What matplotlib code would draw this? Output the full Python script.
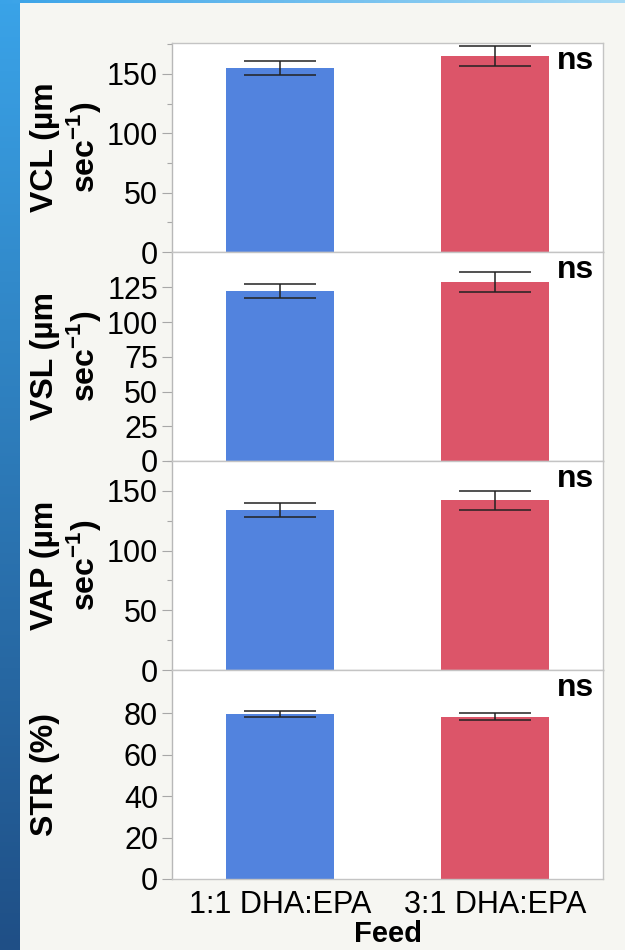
import numpy as np
import matplotlib
matplotlib.use('Agg')
import matplotlib.pyplot as plt
from matplotlib.ticker import MultipleLocator

plt.rcParams['font.family'] = ['Liberation Sans', 'DejaVu Sans']
plt.rcParams['mathtext.fontset'] = 'custom'
plt.rcParams['mathtext.rm'] = 'Liberation Sans'
plt.rcParams['mathtext.bf'] = 'Liberation Sans:bold'

# ── Data ──────────────────────────────────────────────────────────────────────
feeds = ["1:1 DHA:EPA", "3:1 DHA:EPA"]
ylabels = ["VCL (µm\nsec$^{\\mathbf{-1}}$)",
           "VSL (µm\nsec$^{\\mathbf{-1}}$)",
           "VAP (µm\nsec$^{\\mathbf{-1}}$)",
           "STR (%)"]
vcl_mean = [155.0, 165.0]
vcl_err = [6.0, 8.5]
vsl_mean = [122.5, 129.0]
vsl_err = [5.2, 7.3]
vap_mean = [134.0, 142.0]
vap_err = [6.0, 8.0]
str_mean = [79.8, 78.5]
str_err = [1.5, 1.6]
signif = ["ns", "ns", "ns", "ns"]

vcl_ticks = [0, 50, 100, 150]
vsl_ticks = [0, 25, 50, 75, 100, 125]
vap_ticks = [0, 50, 100, 150]
str_ticks = [0, 20, 40, 60, 80]

means = [vcl_mean, vsl_mean, vap_mean, str_mean]
errs = [vcl_err, vsl_err, vap_err, str_err]
ticks = [vcl_ticks, vsl_ticks, vap_ticks, str_ticks]
ylims = [176, 150.5, 175, 101]
minor = [25, None, 25, None]

colors = ['#5283DE', '#DC5569']
bg = '#F6F6F2'
spine_c = '#C4C4C4'

# ── Figure ────────────────────────────────────────────────────────────────────
fig = plt.figure(figsize=(6.25, 9.5), dpi=100, facecolor=bg)

# decorative left strip and top line
strip = fig.add_axes([0, 0, 20 / 625, 1])
grad = np.linspace(0, 1, 256).reshape(-1, 1)
strip.imshow(grad, aspect='auto', cmap=matplotlib.colors.LinearSegmentedColormap.from_list(
    'strip', ['#3AA3E8', '#1F4F86']))
strip.axis('off')
topline = fig.add_axes([0, 1 - 3 / 950, 1, 3 / 950])
topline.imshow(np.linspace(0, 1, 256).reshape(1, -1), aspect='auto',
               cmap=matplotlib.colors.LinearSegmentedColormap.from_list(
                   'top', ['#3AA3E8', '#A6DAF5']))
topline.axis('off')

left, right = 172 / 625, 603 / 625
top, bottom = 1 - 43 / 950, 1 - 879 / 950
h = (top - bottom) / 4

x = np.arange(len(feeds))
for i in range(4):
    ax = fig.add_axes([left, top - (i + 1) * h, right - left, h])
    ax.set_facecolor('white')
    ax.bar(x, means[i], width=0.5, color=colors, zorder=2)
    ax.errorbar(x, means[i], yerr=errs[i], fmt='none', ecolor='#222222',
                elinewidth=1.1, capsize=26, capthick=1.1, zorder=3)
    ax.set_xlim(-0.5, 1.5)
    ax.set_ylim(0, ylims[i])
    ax.set_yticks(ticks[i])
    if minor[i]:
        ax.yaxis.set_minor_locator(MultipleLocator(minor[i]))
    ax.tick_params(axis='y', which='major', length=7, width=0.8, color='#A8A8A8',
                   pad=3, labelsize=22)
    ax.tick_params(axis='y', which='minor', length=3.5, width=0.8, color='#A8A8A8')
    ax.tick_params(axis='x', length=0)
    for s in ax.spines.values():
        s.set_color(spine_c)
        s.set_linewidth(1.0)
    ax.spines['left'].set_color('#B8B8B8')
    ax.set_ylabel(ylabels[i], fontsize=23, fontweight='bold', linespacing=1.15,
                  va='top')
    ax.yaxis.set_label_coords(-0.33, 0.5)
    ax.text(0.893, 0.876, signif[i], transform=ax.transAxes, fontsize=23,
            fontweight='bold', ha='left', va='baseline')
    if i < 3:
        ax.set_xticks([])
    else:
        ax.set_xticks(x)
        ax.set_xticklabels(feeds, fontsize=22)
        ax.tick_params(axis='x', pad=8)
        ax.set_xlabel("Feed", fontsize=21, fontweight='bold', labelpad=0)

plt.savefig('out.png', dpi=100, facecolor=bg)
plt.close()
